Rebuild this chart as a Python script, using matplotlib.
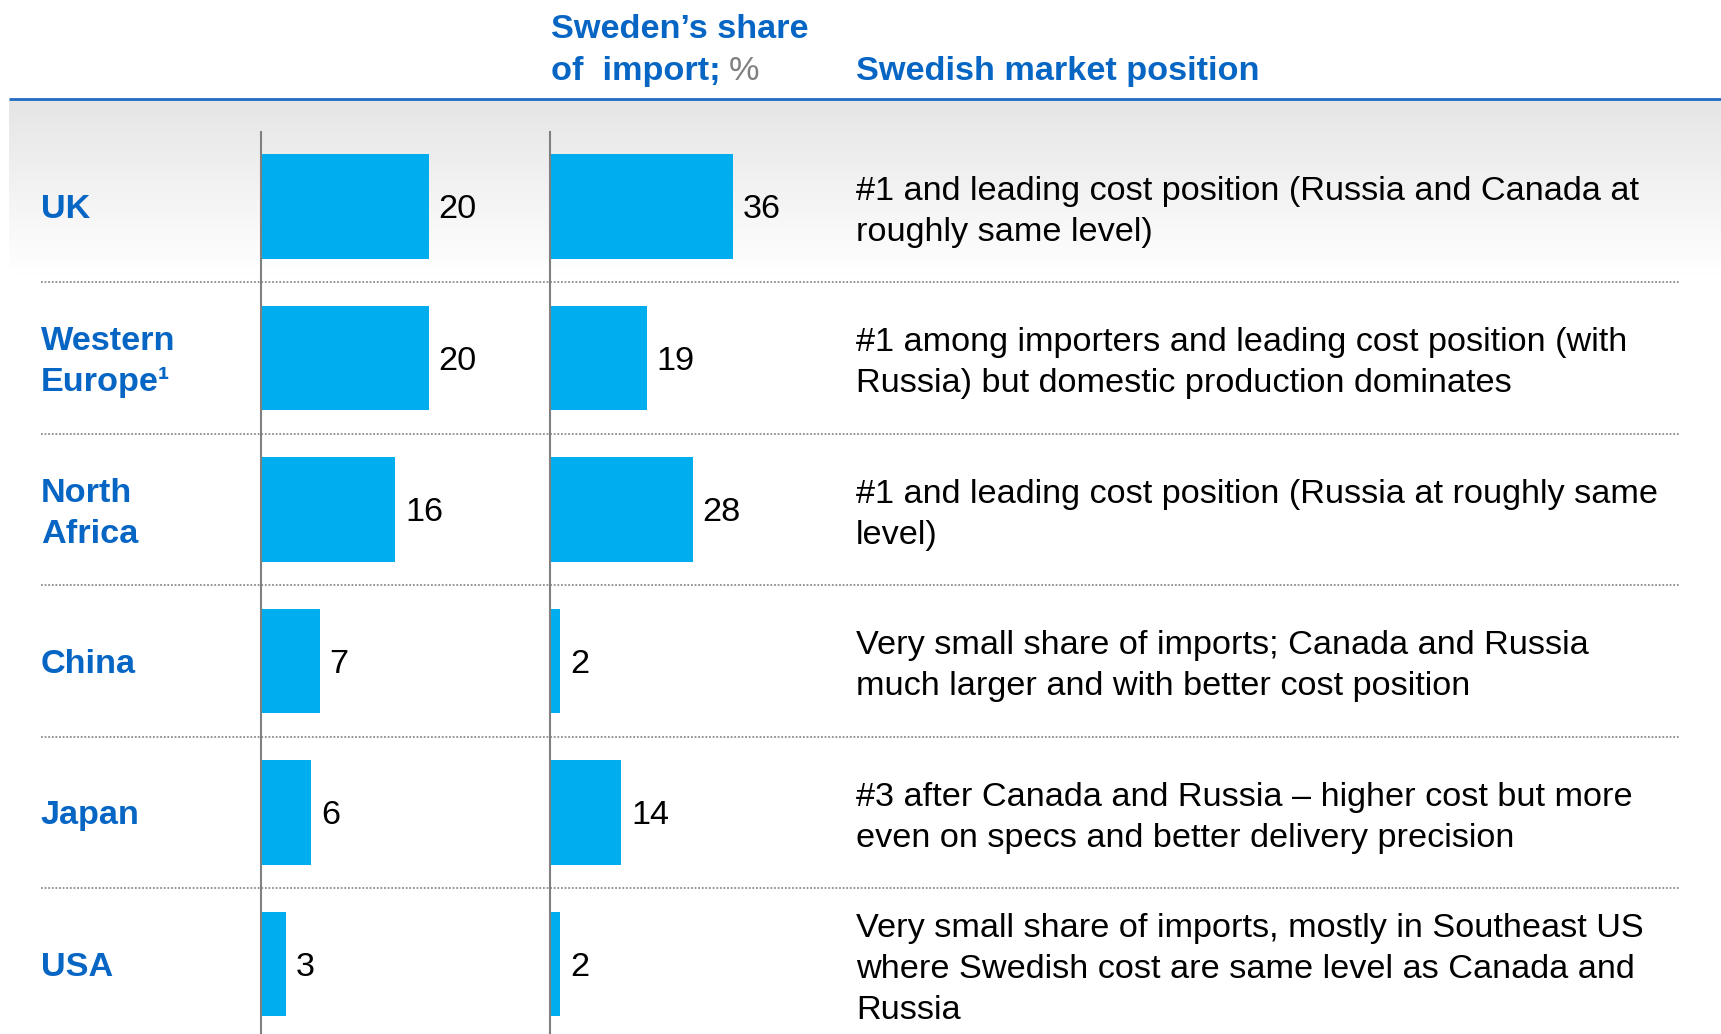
import numpy as np
import matplotlib
matplotlib.use("Agg")
import matplotlib.pyplot as plt

# ---------------- data ----------------
regions = ["UK", "Western\nEurope\u00b9", "North\nAfrica", "China", "Japan", "USA"]
share_values = [20, 20, 16, 7, 6, 3]
import_share = [36, 19, 28, 2, 14, 2]
positions = [
    "#1 and leading cost position (Russia and Canada at\nroughly same level)",
    "#1 among importers and leading cost position (with\nRussia) but domestic production dominates",
    "#1 and leading cost position (Russia at roughly same\nlevel)",
    "Very small share of imports; Canada and Russia\nmuch larger and with better cost position",
    "#3 after Canada and Russia \u2013 higher cost but more\neven on specs and better delivery precision",
    "Very small share of imports, mostly in Southeast US\nwhere Swedish cost are same level as Canada and\nRussia",
]
header_mid = "Sweden\u2019s share"
header_mid2 = "of  import;"
header_unit = "%"
header_right = "Swedish market position"

# ---------------- style ----------------
FONT = "Liberation Sans"
plt.rcParams["font.family"] = [FONT, "DejaVu Sans"]
BLUE = "#0766C4"
BAR = "#00AEEF"
GREY = "#808080"
FS = 24.7
LS = 1.42

W, H = 1721, 1034
fig = plt.figure(figsize=(W / 100, H / 100), dpi=100)

# background axes in pixel coordinates (layout only)
bg = fig.add_axes([0, 0, 1, 1])
bg.set_xlim(0, W)
bg.set_ylim(H, 0)
bg.axis("off")
grad = np.linspace(0, 1, 256).reshape(-1, 1)
top_c = np.array([0.90, 0.90, 0.90])
img = top_c[None, None, :] * (1 - grad[..., None]) + np.ones(3)[None, None, :] * grad[..., None]
bg.imshow(img, extent=[9, W, 275, 100], aspect="auto", zorder=0)
bg.plot([9, W], [99, 99], color="#1F6BC4", lw=2.0, zorder=2, solid_capstyle="butt")
bg.text(551, 38, header_mid, color=BLUE, fontsize=FS, fontweight="bold", va="baseline", ha="left")
t = bg.text(551, 80, header_mid2, color=BLUE, fontsize=FS, fontweight="bold", va="baseline", ha="left")
bg.annotate(header_unit, xy=(1, 0), xycoords=t, xytext=(6, 0), textcoords="offset points",
            color=GREY, fontsize=FS, va="bottom", ha="left")
bg.text(856, 80, header_right, color=BLUE, fontsize=FS, fontweight="bold", va="baseline", ha="left")

# row-unit overlay axes: row centre y = 206.4 + 151.5 * row (pixels)
r0, pitch = 206.4, 151.5
ov = fig.add_axes([0, 0, 1, 1], facecolor="none")
ov.set_xlim(0, W)
ov.set_ylim((H - r0) / pitch, (0 - r0) / pitch)
ov.axis("off")
n = len(regions)
rows = np.arange(n)
for r in rows[:-1]:
    ov.plot([41, 1679], [r + 0.5, r + 0.5], color="#8C8C8C", lw=1.3, ls=(0, (1, 1)), zorder=1)
for r, lab in zip(rows, regions):
    multi = "\n" in lab
    ov.annotate(lab, xy=(41, r), xytext=(0, -3 if multi else 0), textcoords="offset points",
                color=BLUE, fontsize=FS, fontweight="bold",
                va="center" if multi else "center_baseline", ha="left", linespacing=LS)
for r, desc in zip(rows, positions):
    ov.annotate(desc, xy=(856, r), xytext=(0, -4), textcoords="offset points",
                color="black", fontsize=FS, va="center", ha="left", linespacing=LS)

# bar axes
ytop, ybot = (132 - r0) / pitch, (H - r0) / pitch


def bar_axes(x0, px_per_unit, values):
    width_px = 260
    ax = fig.add_axes([x0 / W, 0, width_px / W, (H - 132) / H], facecolor="none")
    ax.set_xlim(0, width_px / px_per_unit)
    ax.set_ylim(ybot, ytop)
    ax.barh(rows, values, height=0.69, color=BAR, edgecolor="none", zorder=2)
    for s in ["top", "right", "bottom"]:
        ax.spines[s].set_visible(False)
    ax.spines["left"].set_color(GREY)
    ax.spines["left"].set_linewidth(1.5)
    ax.spines["left"].set_zorder(3)
    ax.set_xticks([])
    ax.set_yticks([])
    for r, v in zip(rows, values):
        ax.annotate(str(v), xy=(v, r), xytext=(7, 0), textcoords="offset points",
                    va="center_baseline", ha="left", fontsize=FS, color="black")
    return ax


bar_axes(261, 8.40, share_values)
bar_axes(550, 5.09, import_share)

fig.savefig("out.png", dpi=100, facecolor="white")
